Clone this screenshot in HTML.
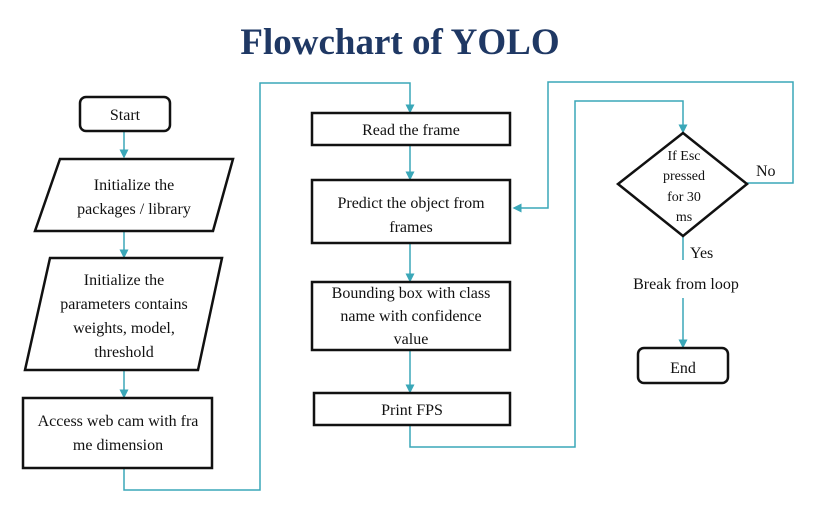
<!DOCTYPE html>
<html><head><style>
body{margin:0;background:#fff;}
svg text{font-family:"Liberation Serif",serif;fill:#111;}
</style></head><body>
<svg width="814" height="502" viewBox="0 0 814 502" xmlns="http://www.w3.org/2000/svg">
<defs><marker id="a" markerWidth="6" markerHeight="6" refX="5" refY="3" orient="auto"><path d="M0,0 L6,3 L0,6 z" fill="#3aa7b8"/></marker></defs>
<text x="400" y="54" text-anchor="middle" font-size="37" font-weight="bold" style="fill:#1f3864">Flowchart of YOLO</text>
<g fill="none" stroke="#3aa7b8" stroke-width="1.5">
<line x1="124" y1="131" x2="124" y2="157" marker-end="url(#a)"/>
<line x1="124" y1="231" x2="124" y2="257" marker-end="url(#a)"/>
<line x1="124" y1="370" x2="124" y2="397" marker-end="url(#a)"/>
<polyline points="124,468 124,490 260,490 260,83 410,83 410,112" marker-end="url(#a)"/>
<line x1="410" y1="145" x2="410" y2="179" marker-end="url(#a)"/>
<line x1="410" y1="243" x2="410" y2="281" marker-end="url(#a)"/>
<line x1="410" y1="350" x2="410" y2="392" marker-end="url(#a)"/>
<polyline points="410,425 410,447 575,447 575,101 683,101 683,132" marker-end="url(#a)"/>
<polyline points="747,183 793,183 793,82 548,82 548,208 514,208" marker-end="url(#a)"/>
<line x1="683" y1="236" x2="683" y2="260"/>
<line x1="683" y1="298" x2="683" y2="347" marker-end="url(#a)"/>
</g>
<g fill="#fff" stroke="#111" stroke-width="2.5">
<rect x="80" y="97" width="90" height="34" rx="6"/>
<polygon points="60,159 233,159 213,231 35,231"/>
<polygon points="50,258 222,258 198,370 25,370"/>
<rect x="23" y="398" width="189" height="70"/>
<rect x="312" y="113" width="198" height="32"/>
<rect x="312" y="180" width="198" height="63"/>
<rect x="312" y="282" width="198" height="68"/>
<rect x="314" y="393" width="196" height="32"/>
<polygon points="683,133 747,184 683,236 618,184"/>
<rect x="638" y="348" width="90" height="35" rx="6"/>
</g>
<g font-size="16" text-anchor="middle">
<text x="125" y="120">Start</text>
<text x="134" y="190">Initialize the</text>
<text x="134" y="214">packages / library</text>
<text x="124" y="285">Initialize the</text>
<text x="124" y="309">parameters contains</text>
<text x="124" y="333">weights, model,</text>
<text x="124" y="357">threshold</text>
<text x="118" y="426">Access web cam with fra</text>
<text x="118" y="450">me dimension</text>
<text x="411" y="135">Read the frame</text>
<text x="411" y="208">Predict the object from</text>
<text x="411" y="232">frames</text>
<text x="411" y="298">Bounding box with class</text>
<text x="411" y="321">name with confidence</text>
<text x="411" y="344">value</text>
<text x="412" y="415">Print FPS</text>
<text x="683" y="373">End</text>
<text x="686" y="289">Break from loop</text>
</g>
<g font-size="14" text-anchor="middle">
<text x="684" y="160">If Esc</text>
<text x="684" y="180">pressed</text>
<text x="684" y="201">for 30</text>
<text x="684" y="221">ms</text>
</g>
<text x="756" y="176" font-size="16">No</text>
<text x="690" y="258" font-size="16">Yes</text>
</svg>
</body></html>
